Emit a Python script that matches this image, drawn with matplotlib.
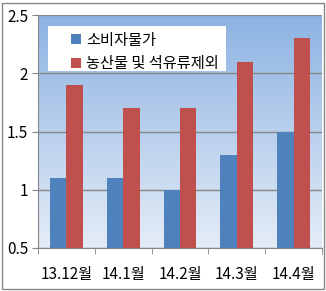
import numpy as np
import matplotlib
matplotlib.use("Agg")
import matplotlib.pyplot as plt
from matplotlib.colors import LinearSegmentedColormap
from matplotlib.patches import Rectangle

plt.rcParams['font.family'] = ['Noto Sans CJK KR', 'DejaVu Sans']

categories = ["13.12월", "14.1월", "14.2월", "14.3월", "14.4월"]
cpi = [1.1, 1.1, 1.0, 1.3, 1.5]
core = [1.9, 1.7, 1.7, 2.1, 2.3]
series_names = ["소비자물가", "농산물 및 석유류제외"]

W, H = 326, 291
fig = plt.figure(figsize=(W / 100, H / 100), dpi=100)
ax = fig.add_axes([38 / W, 1 - 248 / H, (322 - 38) / W, (248 - 15) / H])

# 배경 그라데이션 (위: 파랑, 아래: 연한색)
cmap = LinearSegmentedColormap.from_list("bg", ["#E4ECF7", "#8DB3E2"])
grad = np.linspace(0, 1, 256).reshape(-1, 1)
ax.imshow(grad, cmap=cmap, aspect="auto", origin="lower",
          extent=[0, 1, 0, 1], transform=ax.transAxes, zorder=0)

x = np.arange(len(categories))
w = 0.29
ax.bar(x - w / 2, cpi, w, color="#4F81BD", label=series_names[0], zorder=3)
ax.bar(x + w / 2, core, w, color="#C0504D", label=series_names[1], zorder=3)

ax.set_xlim(-0.5, len(categories) - 0.5)
ax.set_ylim(0.5, 2.5)
ax.set_yticks([0.5, 1, 1.5, 2, 2.5])
ax.set_yticklabels(["0.5", "1", "1.5", "2", "2.5"])
ax.set_xticks(x)
ax.set_xticklabels(categories)
ax.set_xticks(np.arange(-0.5, len(categories)), minor=True)
ax.tick_params(axis="x", which="major", length=0, pad=13, labelsize=11)
ax.tick_params(axis="x", which="minor", length=4, color="#868686", direction="out")
ax.tick_params(axis="y", length=4, color="#868686", labelsize=11, pad=3)
ax.yaxis.grid(True, color="#868686", linewidth=1, zorder=1)
ax.set_axisbelow(True)
for s in ["top", "right"]:
    ax.spines[s].set_visible(False)
for s in ["left", "bottom"]:
    ax.spines[s].set_color("#868686")

# 범례 흰 박스
ax.add_patch(Rectangle((48 / W, 1 - 71 / H), (226 - 48) / W, (71 - 26) / H,
                       transform=fig.transFigure, facecolor="white",
                       edgecolor="none", zorder=4, clip_on=False))
leg = ax.legend(loc="upper left", bbox_to_anchor=(66 / W, 1 - 27 / H),
                bbox_transform=fig.transFigure, frameon=False,
                fontsize=11, handlelength=0.65, handleheight=0.65,
                handletextpad=0.35, labelspacing=0.45, borderpad=0.3,
                borderaxespad=0)
leg.set_zorder(5)

# 바깥 테두리
fig.patches.append(Rectangle((2 / W, 2 / H), (324 - 2) / W, (288 - 2) / H,
                             transform=fig.transFigure, fill=False,
                             edgecolor="#868686", linewidth=1))

fig.savefig("out.png", dpi=100)
